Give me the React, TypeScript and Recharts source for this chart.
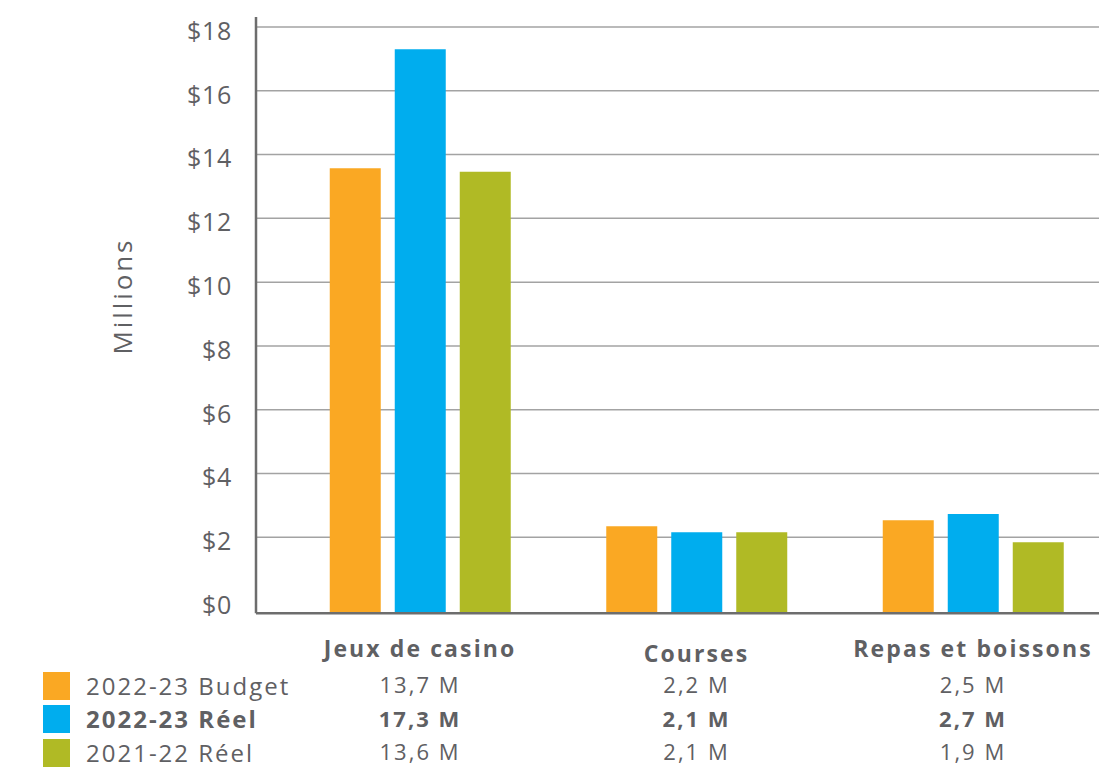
import { Bar, BarChart, CartesianGrid, XAxis, YAxis } from 'recharts';

const categories = ['Jeux de casino', 'Courses', 'Repas et boissons'];
const seriesNames = ['2022-23 Budget', '2022-23 Réel', '2021-22 Réel'];
const budget2223 = [13.57, 2.35, 2.54];
const reel2223 = [17.3, 2.16, 2.73];
const reel2122 = [13.46, 2.16, 1.85];
const budget2223Labels = ['13,7 M', '2,2 M', '2,5 M'];
const reel2223Labels = ['17,3 M', '2,1 M', '2,7 M'];
const reel2122Labels = ['13,6 M', '2,1 M', '1,9 M'];
const yTicks = [0, 2, 4, 6, 8, 10, 12, 14, 16, 18];

const COLORS = ['#FAA823', '#00ADEE', '#B0BA25'];
const TEXT = '#5f6063';
const AXIS = '#6d6d6d';
const FONT = '"Open Sans", sans-serif';
// axis runs a little below zero and a little above 18, as in the original
const Y_MIN = -0.38;
const Y_MAX = 18.31;

const data = categories.map((name, i) => ({
  name,
  budget: budget2223[i],
  reel: reel2223[i],
  prev: reel2122[i],
}));

const rowLabels = [budget2223Labels, reel2223Labels, reel2122Labels];
// "Courses" header sits a few px lower in the source
const headerShift = [0, 5, 0];

// eslint-disable-next-line @typescript-eslint/no-explicit-any
function CategoryTick(props: any) {
  const { x, y, payload, index } = props;
  return (
    <g fontFamily={FONT} fill={TEXT} textAnchor="middle">
      <text
        x={x}
        y={y + 36 + headerShift[index]}
        dy="0.35em"
        fontSize={23}
        fontWeight={700}
        letterSpacing={2.1}
        fill={TEXT}
      >
        {payload.value}
      </text>
      {rowLabels.map((row, r) => (
        <text
          key={r}
          x={x}
          y={y + 72 + r * 33.6}
          dy="0.35em"
          fontSize={22}
          fontWeight={r === 1 ? 700 : 400}
          letterSpacing={2}
          fill={TEXT}
        >
          {row[index]}
        </text>
      ))}
    </g>
  );
}

export default function App() {
  return (
    <div
      style={{
        position: 'absolute',
        left: 0,
        top: 0,
        width: 1099,
        height: 770,
        overflow: 'hidden',
        background: '#fff',
        fontFamily: FONT,
      }}
    >
      <BarChart
        width={1120}
        height={770}
        data={data}
        margin={{ top: 17, right: 8.75, bottom: 0, left: 0 }}
        barSize={51}
        barGap={14}
      >
        <CartesianGrid
          vertical={false}
          horizontalValues={yTicks.filter((t) => t > 0)}
          stroke="#a3a3a3"
          strokeWidth={1.5}
        />
        <XAxis
          dataKey="name"
          height={156.7}
          padding={{ left: 25.75, right: 0 }}
          axisLine={{ stroke: AXIS, strokeWidth: 2.5 }}
          tickLine={false}
          tickSize={0}
          tickMargin={0}
          interval={0}
          tick={<CategoryTick />}
        />
        <YAxis
          width={256}
          type="number"
          domain={[Y_MIN, Y_MAX]}
          allowDataOverflow
          ticks={yTicks}
          tickFormatter={(v: number) => `$${v}`}
          axisLine={{ stroke: AXIS, strokeWidth: 2.5 }}
          tickLine={false}
          tickSize={0}
          tickMargin={24}
          tick={{ fill: TEXT, fontSize: 25, fontFamily: FONT, letterSpacing: 0.7, dy: 4 }}
        />
        <Bar dataKey={(d: any) => [Y_MIN, d.budget]} name={seriesNames[0]} fill={COLORS[0]} isAnimationActive={false} />
        <Bar dataKey={(d: any) => [Y_MIN, d.reel]} name={seriesNames[1]} fill={COLORS[1]} isAnimationActive={false} />
        <Bar dataKey={(d: any) => [Y_MIN, d.prev]} name={seriesNames[2]} fill={COLORS[2]} isAnimationActive={false} />
      </BarChart>

      <div
        style={{
          position: 'absolute',
          left: 122,
          top: 296,
          transform: 'translate(-50%, -50%) rotate(-90deg)',
          fontSize: 26,
          color: TEXT,
          letterSpacing: 2.9,
          whiteSpace: 'nowrap',
        }}
      >
        Millions
      </div>

      <div style={{ position: 'absolute', left: 43, top: 669 }}>
        {seriesNames.map((s, i) => (
          <div key={s} style={{ display: 'flex', alignItems: 'center', height: 33.6 }}>
            <div style={{ width: 27, height: 28, background: COLORS[i], flex: 'none' }} />
            <span
              style={{
                marginLeft: 16,
                fontSize: 24,
                lineHeight: '28px',
                color: TEXT,
                letterSpacing: 2,
                fontWeight: i === 1 ? 700 : 400,
                whiteSpace: 'nowrap',
              }}
            >
              {s}
            </span>
          </div>
        ))}
      </div>
    </div>
  );
}
